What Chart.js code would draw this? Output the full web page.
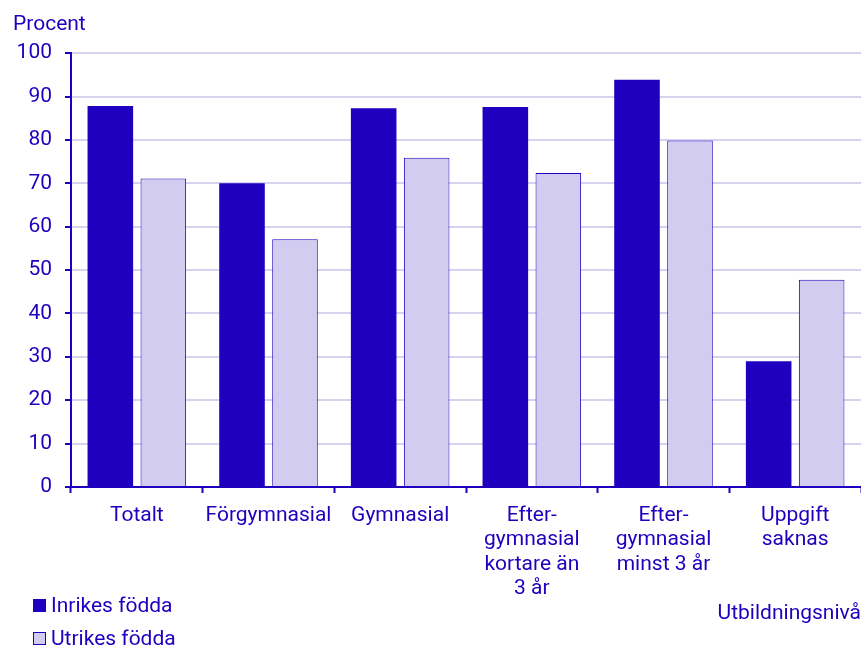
<!DOCTYPE html>
<html>
<head>
<meta charset="utf-8">
<script src="https://cdn.jsdelivr.net/npm/chart.js@4/dist/chart.umd.min.js"></script>
<style>
  html, body { margin: 0; padding: 0; background: #fff; }
  #wrap { position: relative; width: 861px; height: 648px; }
  canvas { display: block; }
  .leg { position: absolute; left: 33px; font: 21px Roboto, sans-serif; color: #1e00be; display: flex; align-items: center; white-space: nowrap; line-height: 24px; }
  .sw { width: 13px; height: 13px; margin-right: 5px; box-sizing: border-box; }
</style>
</head>
<body>
<div id="wrap">
  <canvas id="c" width="861" height="648"></canvas>
  <div class="leg" style="top:593px"><span class="sw" style="background:#1e00be"></span><span id="l1"></span></div>
  <div class="leg" style="top:626px"><span class="sw" style="background:#d2cdf0;border:1px solid #1e00be"></span><span id="l2"></span></div>
</div>
<script>
const categories = [
  'Totalt',
  'Förgymnasial',
  'Gymnasial',
  ['Efter-', 'gymnasial', 'kortare än', '3 år'],
  ['Efter-', 'gymnasial', 'minst 3 år'],
  ['Uppgift', 'saknas']
];
const seriesNames = ['Inrikes födda', 'Utrikes födda'];
const inrikes = [87.8, 70.0, 87.3, 87.6, 93.9, 29.0];
const utrikes = [71.1, 57.1, 75.9, 72.4, 79.9, 47.8];
const yTicks = [0, 10, 20, 30, 40, 50, 60, 70, 80, 90, 100];
const yTitle = 'Procent';
const xTitle = 'Utbildningsnivå';

const DARK = '#1e00be';
const LIGHT = '#d2cdf0';
const GRID = '#d6d3f1';
const FONT = 'Roboto, sans-serif';

document.getElementById('l1').textContent = seriesNames[0];
document.getElementById('l2').textContent = seriesNames[1];

new Chart(document.getElementById('c'), {
  type: 'bar',
  data: {
    labels: categories,
    datasets: [
      { label: seriesNames[0], data: inrikes, backgroundColor: DARK, borderColor: DARK, borderWidth: 0,
        categoryPercentage: 0.805, barPercentage: 0.86 },
      { label: seriesNames[1], data: utrikes, backgroundColor: LIGHT, borderColor: DARK, borderWidth: 1,
        categoryPercentage: 0.805, barPercentage: 0.86 }
    ]
  },
  options: {
    responsive: false,
    animation: false,
    layout: { padding: { left: 13, right: 0, top: 0, bottom: 0 } },
    plugins: {
      legend: { display: false },
      tooltip: { enabled: false },
      title: {
        display: true, text: yTitle, align: 'start', color: DARK,
        font: { family: FONT, size: 21, weight: 'normal', lineHeight: 1.2 },
        padding: { top: 12, bottom: 16 }
      }
    },
    scales: {
      x: {
        afterFit: (axis) => { axis.height = 161; },
        grid: { display: true, drawOnChartArea: false, drawTicks: true, tickLength: 6, tickColor: DARK, tickWidth: 2, offset: true },
        border: { display: true, color: DARK, width: 2 },
        ticks: { color: DARK, font: { family: FONT, size: 21, lineHeight: 1.15 }, padding: 11, maxRotation: 0, autoSkip: false },
        title: { display: true, text: xTitle, align: 'end', color: DARK,
          font: { family: FONT, size: 21, lineHeight: 1.15 }, padding: { top: 1, bottom: 22 } }
      },
      y: {
        min: 0, max: 100,
        afterFit: (axis) => { axis.width = 58; },
        afterBuildTicks: (axis) => { axis.ticks = yTicks.map(v => ({ value: v })); },
        grid: { color: GRID, lineWidth: 2, tickColor: DARK, tickLength: 6, tickWidth: 2, drawTicks: true },
        border: { display: true, color: DARK, width: 2 },
        ticks: { color: DARK, font: { family: FONT, size: 21 }, padding: 13 }
      }
    }
  }
});
</script>
</body>
</html>
